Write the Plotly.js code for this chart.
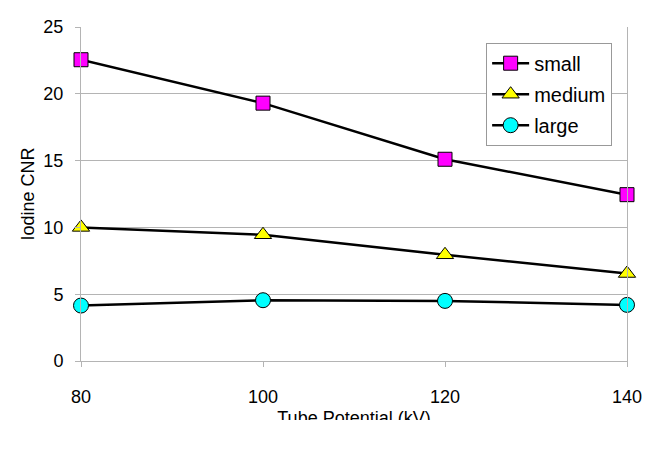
<!DOCTYPE html>
<html>
<head>
<meta charset="utf-8">
<script src="https://cdn.plot.ly/plotly-3.0.1.min.js"></script>
<style>
  html, body { margin: 0; padding: 0; background: #ffffff; }
  #clip { width: 661px; height: 420px; overflow: hidden; }
  #chart { width: 661px; height: 451px; }
</style>
</head>
<body>
<div id="clip"><div id="chart"></div></div>
<script>
// data
const potentials = [80, 100, 120, 140];
const cnrSmall = [22.55, 19.3, 15.1, 12.45];
const cnrMedium = [10.0, 9.45, 7.95, 6.55];
const cnrLarge = [4.15, 4.55, 4.5, 4.2];

const seriesNames = ['small', 'medium', 'large'];
const seriesValues = [cnrSmall, cnrMedium, cnrLarge];
const seriesColors = ['#ff00ff', '#ffff00', '#00ffff'];
const seriesSymbols = ['square', 'triangle-up', 'circle'];
const seriesSizes = [14, 15, 15];

const traces = seriesNames.map((name, i) => ({
    x: potentials, y: seriesValues[i], type: 'scatter', mode: 'lines+markers',
    name: name, legendgroup: name, cliponaxis: false,
    line: { color: '#000000', width: 2.5 },
    marker: { symbol: seriesSymbols[i], size: seriesSizes[i], color: seriesColors[i], line: { color: '#000000', width: 1 } }
}));

const gridGray = '#b4b4b4';
const layout = {
    width: 661, height: 451,
    paper_bgcolor: '#ffffff', plot_bgcolor: '#ffffff',
    font: { family: 'Liberation Sans, Arial, sans-serif', size: 18, color: '#000000' },
    margin: { l: 81, r: 34, t: 27, b: 90 },
    xaxis: {
        range: [80, 140], tickvals: potentials, showgrid: false, zeroline: false,
        showline: true, linecolor: gridGray, linewidth: 1,
        ticks: 'outside', ticklen: 5, tickcolor: gridGray, ticklabelstandoff: 14,
        title: { text: 'Tube Potential (kV)', standoff: 5, font: { size: 18 } }
    },
    yaxis: {
        range: [0, 25], dtick: 5, showgrid: true, gridcolor: gridGray, gridwidth: 1, zeroline: false,
        showline: true, mirror: true, linecolor: gridGray, linewidth: 1,
        ticks: 'outside', ticklen: 5, tickcolor: gridGray, ticklabelstandoff: 8,
        title: { text: 'Iodine CNR', standoff: 4, font: { size: 18 } }
    },
    showlegend: true,
    legend: {
        x: 0.742, y: 0.953, xanchor: 'left', yanchor: 'top',
        bgcolor: '#ffffff', bordercolor: '#999999', borderwidth: 1,
        font: { size: 20 }, traceorder: 'grouped', tracegroupgap: 2, itemwidth: 37
    }
};

Plotly.newPlot('chart', traces, layout, { staticPlot: true, displayModeBar: false });
</script>
</body>
</html>
